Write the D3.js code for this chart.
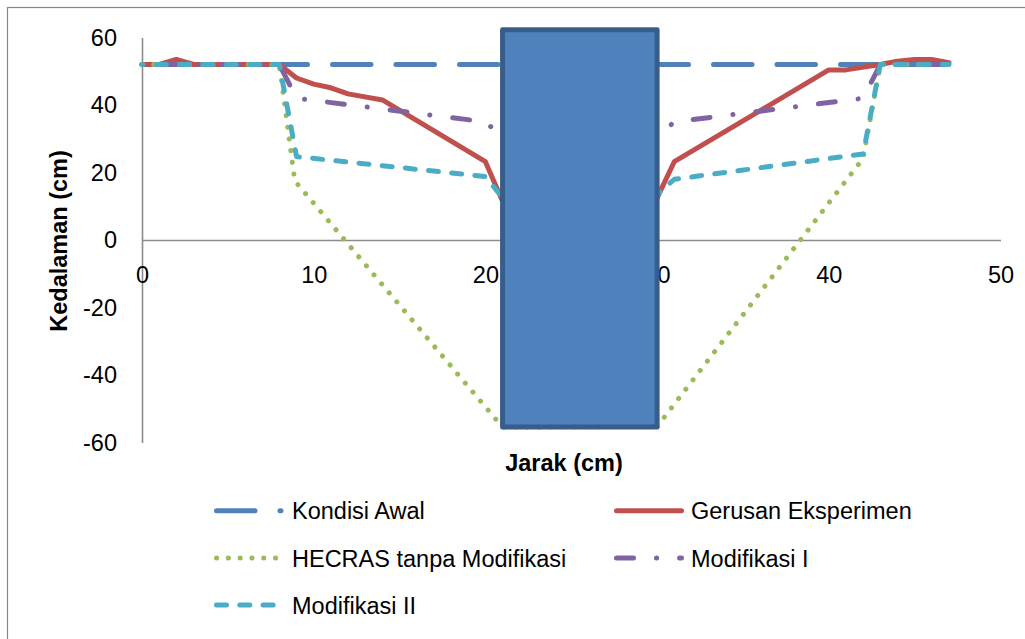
<!DOCTYPE html>
<html>
<head>
<meta charset="utf-8">
<script src="https://cdn.jsdelivr.net/npm/d3@7"></script>
<style>
  html, body { margin: 0; padding: 0; background: #ffffff; }
  svg { display: block; }
</style>
</head>
<body>
<svg id="chart" width="1025" height="639"></svg>
<script>
// Axis ticks
const xTicks = [0, 10, 20, 30, 40, 50];
const yTicks = [-60, -40, -20, 0, 20, 40, 60];

// Profiles: [jarak (cm), kedalaman (cm)]
const kondisiAwal = [[0, 52], [47, 52]];
const gerusanEksperimen = [
  [0, 52], [1, 52], [2, 53.5], [3, 52], [8, 52], [9, 48], [10, 46.2], [11, 45.1],
  [12, 43.3], [14, 41.5], [20, 23.2], [21, 11.5],
  [30, 12.5], [31, 23.2], [40, 50.4], [41, 50.4], [43, 52], [44, 53], [45, 53.5],
  [46, 53.5], [47, 52.5]
];
const hecrasTanpaModifikasi = [
  [0, 52], [8, 52], [8.9, 17.5], [21, -55.5], [30, -55.3], [42, 24.2], [43, 52], [47, 52]
];
const modifikasiI = [
  [0, 52], [8, 52], [9, 42], [20, 35], [21, 30.5], [30, 30.5], [31, 35], [42, 42], [43, 52], [47, 52]
];
const modifikasiII = [
  [0, 52], [8, 52], [9, 24.7], [20, 18.8], [21, 12.5], [30, 13.5], [31, 18], [42, 25.5], [43, 52], [47, 52]
];

// Pier block: x extent and y extent (cm)
const pierX = [21, 30];
const pierY = [-55.4, 62.3];

const seriesNames = ["Kondisi Awal", "Gerusan Eksperimen", "HECRAS tanpa Modifikasi", "Modifikasi I", "Modifikasi II"];
const seriesData = [kondisiAwal, gerusanEksperimen, hecrasTanpaModifikasi, modifikasiI, modifikasiII];

// Line styles per series
const seriesStyle = [
  { color: "#4f81bd", width: 5,   dash: "38.5,25",       offset: 0 },
  { color: "#c0504d", width: 5,   dash: null,            offset: 0 },
  { color: "#9bbb59", width: 5,   dash: "0.1,11.7",      offset: 0 },
  { color: "#8064a2", width: 5,   dash: "17,23,0.1,23",  offset: 46 },
  { color: "#4bacc6", width: 5,   dash: "10,13.3",       offset: 9 }
];

const FONT = "'Liberation Sans', Arial, sans-serif";
const FONT_SIZE = 23.5;
const plainNumber = d => String(d);

const svg = d3.select("#chart");

// Outer chart border
svg.append("rect")
  .attr("x", 7.5).attr("y", 7.5)
  .attr("width", 1100).attr("height", 700)
  .attr("fill", "none")
  .attr("stroke", "#878787")
  .attr("stroke-width", 1.2);

const x = d3.scaleLinear().domain([0, 50]).range([142, 1000.5]);
const y = d3.scaleLinear().domain([-60, 60]).range([442.5, 37.5]);

// Y axis
const yAxisG = svg.append("g")
  .attr("transform", `translate(${x(0)},0)`)
  .call(d3.axisLeft(y).tickValues(yTicks).tickFormat(plainNumber)
    .tickSize(0).tickSizeOuter(0).tickPadding(25));
yAxisG.attr("font-family", FONT).attr("font-size", FONT_SIZE);
yAxisG.select(".domain").attr("stroke", "#8c8c8c").attr("stroke-width", 1.6);
yAxisG.selectAll(".tick text").attr("fill", "#000").attr("dy", "0.33em");

// X axis, crossing at y = 0
const xAxisG = svg.append("g")
  .attr("transform", `translate(0,${y(0)})`)
  .call(d3.axisBottom(x).tickValues(xTicks).tickFormat(plainNumber)
    .tickSize(0).tickSizeOuter(0));
xAxisG.attr("font-family", FONT).attr("font-size", FONT_SIZE);
xAxisG.select(".domain").attr("stroke", "#8c8c8c").attr("stroke-width", 1.6);
xAxisG.selectAll(".tick text").attr("fill", "#000").attr("dy", null).attr("y", 43);

// Axis titles
svg.append("text")
  .attr("x", 564).attr("y", 471)
  .attr("text-anchor", "middle")
  .attr("font-family", FONT).attr("font-size", FONT_SIZE).attr("font-weight", "bold")
  .attr("fill", "#000")
  .text("Jarak (cm)");

svg.append("text")
  .attr("transform", `translate(67,241) rotate(-90)`)
  .attr("text-anchor", "middle")
  .attr("font-family", FONT).attr("font-size", FONT_SIZE).attr("font-weight", "bold")
  .attr("fill", "#000")
  .text("Kedalaman (cm)");

// Series lines
const line = d3.line().x(d => x(d[0])).y(d => y(d[1]));
const linesG = svg.append("g").attr("fill", "none");
seriesData.forEach((data, i) => {
  const s = seriesStyle[i];
  const p = linesG.append("path")
    .datum(data)
    .attr("d", line)
    .attr("stroke", s.color)
    .attr("stroke-width", s.width)
    .attr("stroke-linecap", "round")
    .attr("stroke-linejoin", "round");
  if (s.dash) p.attr("stroke-dasharray", s.dash).attr("stroke-dashoffset", s.offset);
});

// Pier block drawn over the profiles
svg.append("rect")
  .attr("x", x(pierX[0]))
  .attr("y", y(pierY[1]))
  .attr("width", x(pierX[1]) - x(pierX[0]))
  .attr("height", y(pierY[0]) - y(pierY[1]))
  .attr("fill", "#4f81bd")
  .attr("stroke", "#385d8a")
  .attr("stroke-width", 5)
  .attr("stroke-linejoin", "round");

// Legend: two columns, three rows
const legendCols = [{ x1: 216.5, x2: 281, tx: 292 }, { x1: 616.5, x2: 681.5, tx: 691 }];
const legendRows = [510.7, 558, 605];
const legendG = svg.append("g");
seriesNames.forEach((name, i) => {
  const col = legendCols[i % 2];
  const rowY = legendRows[Math.floor(i / 2)];
  const s = seriesStyle[i];
  const l = legendG.append("line")
    .attr("x1", col.x1).attr("x2", col.x2)
    .attr("y1", rowY).attr("y2", rowY)
    .attr("stroke", s.color)
    .attr("stroke-width", s.width)
    .attr("stroke-linecap", "round");
  if (s.dash) l.attr("stroke-dasharray", s.dash);
  legendG.append("text")
    .attr("x", col.tx).attr("y", rowY + 8.5)
    .attr("font-family", FONT).attr("font-size", FONT_SIZE)
    .attr("fill", "#000")
    .text(name);
});
</script>
</body>
</html>
